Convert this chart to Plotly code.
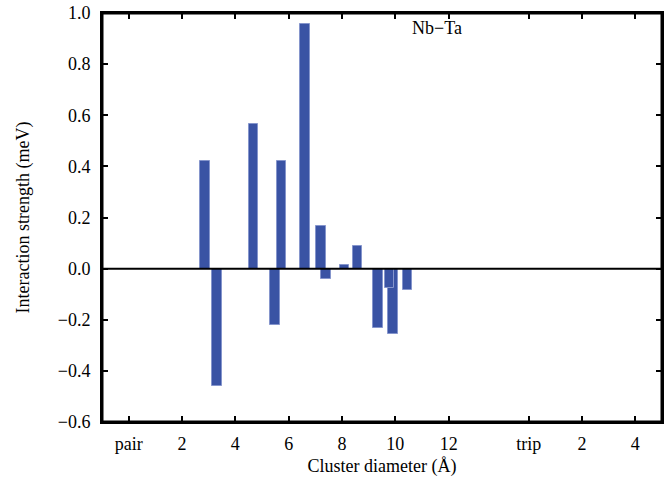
import plotly.graph_objects as go

# Cluster positions (Å); pair clusters at their diameter, "pair" label at 0, triplets offset from 15
bar_x = [2.86, 3.32, 4.68, 5.48, 5.73, 6.62, 7.21, 7.39, 8.10, 8.58, 9.35, 9.91, 9.78, 10.45]
bar_y = [0.42, -0.46, 0.567, -0.22, 0.423, 0.958, 0.166, -0.04, 0.015, 0.089, -0.234, -0.255, -0.077, -0.085]

tick_vals = [0, 2, 4, 6, 8, 10, 12, 15, 17, 19]
tick_text = ["pair", "2", "4", "6", "8", "10", "12", "trip", "2", "4"]
y_ticks = [-0.6, -0.4, -0.2, 0.0, 0.2, 0.4, 0.6, 0.8, 1.0]
y_text = ["\u22120.6", "\u22120.4", "\u22120.2", "0.0", "0.2", "0.4", "0.6", "0.8", "1.0"]

font = "Liberation Serif"

fig = go.Figure()
fig.add_trace(go.Bar(
    x=bar_x, y=bar_y, width=0.36,
    marker=dict(color="#3a53a4", line=dict(color="#8595cc", width=1)),
    showlegend=False, hoverinfo="skip",
))

fig.add_shape(type="line", xref="paper", yref="y", x0=0, x1=1, y0=0, y1=0,
              line=dict(color="black", width=2), layer="above")
fig.add_shape(type="rect", xref="paper", yref="paper", x0=0, x1=1, y0=0, y1=1,
              line=dict(color="black", width=3), fillcolor="rgba(0,0,0,0)", layer="above")

fig.add_annotation(x=11.55, y=0.94, text="Nb\u2212Ta", showarrow=False,
                   font=dict(family=font, size=18, color="black"))

axis_common = dict(
    showline=True, linecolor="black", linewidth=2, mirror="ticks",
    ticks="inside", ticklen=6, tickwidth=2, tickcolor="black",
    showgrid=False, zeroline=False, automargin=False,
    ticklabeloverflow="allow",
    tickfont=dict(family=font, size=18, color="black"),
)

fig.update_layout(
    width=668, height=485,
    margin=dict(l=102, r=6, t=13, b=63),
    plot_bgcolor="white", paper_bgcolor="white",
    xaxis=dict(range=[-1, 20], tickmode="array", tickvals=tick_vals, ticktext=tick_text,
               ticklabelstandoff=4,
               title=dict(text="Cluster diameter (\u00c5)", font=dict(family=font, size=18, color="black"),
                          standoff=7),
               **axis_common),
    yaxis=dict(range=[-0.6, 1.0], tickmode="array", tickvals=y_ticks, ticktext=y_text,
               ticklabelstandoff=6,
               title=dict(text="Interaction strength (meV)", font=dict(family=font, size=18, color="black"),
                          standoff=23),
               **axis_common),
    bargap=0,
)

fig.write_html("out.html", config={"displayModeBar": False},
               post_script="document.body.style.margin='0';")
